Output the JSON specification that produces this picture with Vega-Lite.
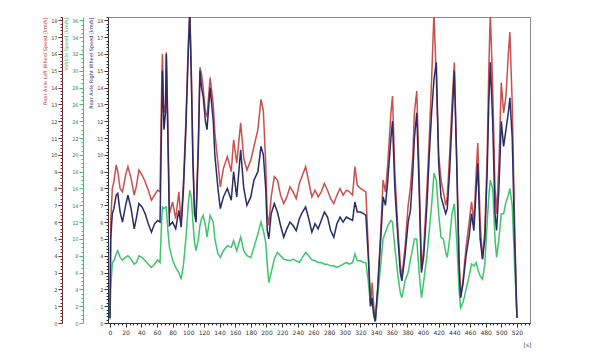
{
  "$schema": "https://vega.github.io/schema/vega-lite/v6.json",
  "autosize": {"type": "none"},
  "padding": {"left": 108, "top": 17, "right": 70, "bottom": 33},
  "width": 422,
  "height": 306,
  "background": "white",
  "config": {"view": {"stroke": "#8a8a8a", "strokeWidth": 1}, "axis": {"labelFont": "DejaVu Sans", "titleFont": "DejaVu Sans"}},
  "data": {"values": [
    {"t":0,"red":0.5,"blue":0.3,"green":0.4},
    {"t":1,"red":6.0,"blue":5.0,"green":4.0},
    {"t":3,"red":8.0,"blue":6.5,"green":7.2},
    {"t":5,"red":8.4,"blue":6.8,"green":7.4},
    {"t":8,"red":9.4,"blue":7.6,"green":8.2},
    {"t":10,"red":9.0,"blue":7.7,"green":8.6},
    {"t":13,"red":8.0,"blue":6.6,"green":7.8},
    {"t":16,"red":7.8,"blue":6.0,"green":7.5},
    {"t":20,"red":8.8,"blue":7.0,"green":7.8},
    {"t":23,"red":9.3,"blue":7.6,"green":8.0},
    {"t":27,"red":8.6,"blue":6.8,"green":7.6},
    {"t":31,"red":7.6,"blue":5.6,"green":7.0},
    {"t":34,"red":8.2,"blue":6.3,"green":7.2},
    {"t":37,"red":9.1,"blue":7.1,"green":8.0},
    {"t":41,"red":8.8,"blue":6.9,"green":7.8},
    {"t":45,"red":8.4,"blue":6.5,"green":7.4},
    {"t":49,"red":7.9,"blue":5.9,"green":7.0},
    {"t":53,"red":7.3,"blue":5.4,"green":6.6},
    {"t":57,"red":7.6,"blue":5.9,"green":7.0},
    {"t":61,"red":7.9,"blue":6.1,"green":7.5},
    {"t":64,"red":7.8,"blue":6.0,"green":7.2},
    {"t":66,"red":14,"blue":12,"green":12.0},
    {"t":67,"red":16,"blue":15,"green":13.8},
    {"t":69,"red":12.5,"blue":11.5,"green":13.6},
    {"t":71,"red":13,"blue":12.5,"green":13.8},
    {"t":72,"red":16.1,"blue":16,"green":13.8},
    {"t":74,"red":12,"blue":11,"green":11.0},
    {"t":76,"red":6.5,"blue":5.8,"green":9.0},
    {"t":80,"red":7.2,"blue":6.0,"green":7.5},
    {"t":84,"red":6.2,"blue":5.6,"green":6.6},
    {"t":88,"red":7.8,"blue":6.7,"green":6.0},
    {"t":91,"red":6.0,"blue":5.7,"green":5.2},
    {"t":94,"red":8.5,"blue":8.0,"green":7.0},
    {"t":97,"red":12,"blue":11.5,"green":10.0},
    {"t":100,"red":16.5,"blue":16,"green":14.0},
    {"t":102,"red":18.5,"blue":18.5,"green":15.8},
    {"t":104,"red":15,"blue":14.5,"green":15.0},
    {"t":106,"red":10,"blue":9.5,"green":12.0},
    {"t":108,"red":7,"blue":6.5,"green":9.6},
    {"t":110,"red":6.3,"blue":6.0,"green":8.6},
    {"t":113,"red":11,"blue":10.5,"green":10.0},
    {"t":115,"red":15.2,"blue":15.0,"green":11.6},
    {"t":117,"red":14.8,"blue":14.0,"green":12.4},
    {"t":119,"red":14,"blue":13.5,"green":12.8},
    {"t":122,"red":12.5,"blue":12,"green":11.6},
    {"t":124,"red":12.3,"blue":11.5,"green":10.2},
    {"t":128,"red":14.6,"blue":14.0,"green":12.8},
    {"t":132,"red":13,"blue":12,"green":12.0},
    {"t":134,"red":11.3,"blue":10,"green":10.0},
    {"t":138,"red":9.5,"blue":8.0,"green":8.2},
    {"t":141,"red":8.1,"blue":6.8,"green":7.8},
    {"t":145,"red":9.2,"blue":7.5,"green":8.6},
    {"t":150,"red":9.9,"blue":8.0,"green":9.2},
    {"t":155,"red":9.0,"blue":7.3,"green":9.0},
    {"t":158,"red":10.9,"blue":9.0,"green":9.8},
    {"t":162,"red":9.5,"blue":7.5,"green":8.6},
    {"t":167,"red":11.9,"blue":10.3,"green":10.2},
    {"t":171,"red":9.8,"blue":8.0,"green":8.6},
    {"t":175,"red":9.1,"blue":7.0,"green":8.0},
    {"t":180,"red":9.7,"blue":7.5,"green":7.8},
    {"t":184,"red":10.5,"blue":8.5,"green":9.0},
    {"t":189,"red":11.5,"blue":9.0,"green":10.6},
    {"t":193,"red":13.3,"blue":10.5,"green":12.0},
    {"t":196,"red":12.6,"blue":10.0,"green":11.0},
    {"t":199,"red":9.5,"blue":8.0,"green":9.6},
    {"t":201,"red":6.5,"blue":5.5,"green":7.0},
    {"t":203,"red":5.8,"blue":5.0,"green":4.8},
    {"t":206,"red":7.5,"blue":6.5,"green":6.0},
    {"t":210,"red":8.7,"blue":7.1,"green":7.6},
    {"t":214,"red":8.5,"blue":6.6,"green":8.4},
    {"t":218,"red":7.6,"blue":5.8,"green":8.0},
    {"t":222,"red":7.1,"blue":5.1,"green":7.6},
    {"t":226,"red":7.5,"blue":5.6,"green":7.5},
    {"t":230,"red":8.1,"blue":6.0,"green":7.4},
    {"t":234,"red":7.8,"blue":5.8,"green":7.6},
    {"t":238,"red":7.4,"blue":5.5,"green":7.4},
    {"t":242,"red":8.3,"blue":6.2,"green":7.2},
    {"t":246,"red":8.8,"blue":6.6,"green":7.8},
    {"t":250,"red":9.3,"blue":6.9,"green":8.4},
    {"t":254,"red":8.4,"blue":6.2,"green":8.0},
    {"t":258,"red":7.5,"blue":5.4,"green":7.5},
    {"t":262,"red":7.9,"blue":5.9,"green":7.4},
    {"t":266,"red":7.5,"blue":5.6,"green":7.2},
    {"t":270,"red":7.8,"blue":6.1,"green":7.2},
    {"t":274,"red":8.3,"blue":6.6,"green":7.0},
    {"t":278,"red":7.9,"blue":6.3,"green":7.0},
    {"t":282,"red":7.4,"blue":5.5,"green":6.8},
    {"t":286,"red":7.1,"blue":5.1,"green":6.8},
    {"t":290,"red":7.6,"blue":5.9,"green":6.6},
    {"t":294,"red":8.0,"blue":6.3,"green":6.8},
    {"t":298,"red":7.6,"blue":6.0,"green":7.0},
    {"t":302,"red":7.9,"blue":6.3,"green":7.2},
    {"t":306,"red":7.8,"blue":6.2,"green":7.0},
    {"t":310,"red":7.6,"blue":6.1,"green":7.2},
    {"t":313,"red":9.3,"blue":7.2,"green":8.2},
    {"t":316,"red":8.2,"blue":6.6,"green":7.4},
    {"t":320,"red":8.0,"blue":6.6,"green":7.4},
    {"t":324,"red":7.9,"blue":6.5,"green":7.2},
    {"t":327,"red":7.8,"blue":6.4,"green":7.2},
    {"t":330,"red":4.5,"blue":4.0,"green":5.0},
    {"t":333,"red":1.0,"blue":1.0,"green":2.0},
    {"t":335,"red":2.4,"blue":1.5,"green":3.0},
    {"t":337,"red":1.0,"blue":0.5,"green":1.0},
    {"t":339,"red":0.1,"blue":0.1,"green":0.2},
    {"t":342,"red":2.0,"blue":2.0,"green":3.0},
    {"t":346,"red":5.5,"blue":5.0,"green":7.0},
    {"t":349,"red":8.5,"blue":7.5,"green":10.0},
    {"t":352,"red":7.8,"blue":7.0,"green":10.8},
    {"t":355,"red":9.5,"blue":8.5,"green":11.6},
    {"t":359,"red":12.5,"blue":11.0,"green":12.2},
    {"t":361,"red":13.5,"blue":12.0,"green":12.0},
    {"t":364,"red":9.0,"blue":8.0,"green":9.0},
    {"t":368,"red":5.5,"blue":5.0,"green":5.6},
    {"t":371,"red":3.5,"blue":3.0,"green":3.6},
    {"t":373,"red":2.7,"blue":2.5,"green":3.0},
    {"t":377,"red":4.5,"blue":4.0,"green":5.0},
    {"t":381,"red":7.0,"blue":6.0,"green":6.0},
    {"t":384,"red":8.1,"blue":6.7,"green":7.6},
    {"t":387,"red":10,"blue":9,"green":9.0},
    {"t":389,"red":12.5,"blue":11,"green":10.0},
    {"t":392,"red":13.8,"blue":12.5,"green":10.0},
    {"t":395,"red":9.0,"blue":8.0,"green":6.0},
    {"t":398,"red":3.2,"blue":3.0,"green":3.0},
    {"t":401,"red":4.5,"blue":4.0,"green":5.0},
    {"t":405,"red":8.0,"blue":7.0,"green":8.0},
    {"t":408,"red":11,"blue":10,"green":11.0},
    {"t":411,"red":14.5,"blue":12.5,"green":14.0},
    {"t":414,"red":18.5,"blue":14.5,"green":17.8},
    {"t":417,"red":14.5,"blue":15.5,"green":17.0},
    {"t":420,"red":10,"blue":9.5,"green":13.0},
    {"t":423,"red":8.5,"blue":7.5,"green":10.2},
    {"t":426,"red":7.8,"blue":7.0,"green":10.0},
    {"t":429,"red":7.0,"blue":6.5,"green":8.4},
    {"t":431,"red":7.5,"blue":6.8,"green":7.8},
    {"t":434,"red":10,"blue":9.0,"green":10.0},
    {"t":437,"red":13,"blue":12,"green":13.0},
    {"t":440,"red":15.5,"blue":15.0,"green":14.2},
    {"t":443,"red":10,"blue":9.5,"green":10.0},
    {"t":446,"red":4.0,"blue":3.5,"green":4.0},
    {"t":448,"red":1.5,"blue":1.5,"green":1.8},
    {"t":451,"red":2.5,"blue":2.3,"green":2.4},
    {"t":455,"red":4.5,"blue":4.0,"green":4.0},
    {"t":459,"red":6.0,"blue":5.2,"green":5.6},
    {"t":462,"red":7.2,"blue":6.5,"green":7.0},
    {"t":465,"red":6.0,"blue":5.5,"green":6.8},
    {"t":468,"red":9,"blue":8,"green":7.2},
    {"t":470,"red":10.7,"blue":9.5,"green":6.4},
    {"t":473,"red":6.0,"blue":5.0,"green":5.6},
    {"t":476,"red":3.8,"blue":3.8,"green":5.2},
    {"t":479,"red":5.5,"blue":5.0,"green":7.0},
    {"t":482,"red":10,"blue":9,"green":12.0},
    {"t":484,"red":15,"blue":13,"green":15.0},
    {"t":486,"red":18.5,"blue":15.5,"green":17.0},
    {"t":489,"red":14,"blue":12,"green":16.0},
    {"t":492,"red":8,"blue":6.5,"green":10.0},
    {"t":494,"red":6.5,"blue":5.5,"green":7.8},
    {"t":497,"red":9.5,"blue":8.0,"green":10.0},
    {"t":500,"red":14.3,"blue":12.0,"green":13.0},
    {"t":503,"red":12.5,"blue":10.5,"green":13.0},
    {"t":506,"red":13.5,"blue":11.5,"green":14.4},
    {"t":509,"red":16,"blue":12.5,"green":15.2},
    {"t":511,"red":17.3,"blue":13.4,"green":16.0},
    {"t":514,"red":13,"blue":11,"green":14.0},
    {"t":517,"red":6,"blue":5,"green":7.0},
    {"t":520,"red":0.3,"blue":0.3,"green":0.6}
  ]},
  "encoding": {
    "x": {"field": "t", "type": "quantitative",
      "scale": {"domain": [-2.5, 536.7], "nice": false, "zero": false},
      "axis": {"title": "[s]", "titleFontSize": 6, "titleFontWeight": "normal", "titleColor": "#333", "titleX": 419, "titleY": 18, "titleAlign": "center",
        "tickCount": 104, "labelOverlap": false, "labelBound": false, "labelFontSize": 6, "labelColor": "#333", "labelPadding": 2,
        "labelExpr": "datum.value % 20 === 0 ? format(datum.value, 'd') : ''",
        "tickSize": {"condition": {"test": "datum.value % 20 === 0", "value": 4}, "value": 2},
        "domainColor": "#333", "tickColor": "#333", "grid": false}}
  },
  "layer": [
    {
      "mark": {"type": "line", "color": "#c9504e", "strokeWidth": 1.5, "clip": true},
      "encoding": {
        "y": {"field": "red", "type": "quantitative",
          "scale": {"domain": [0, 18.2], "nice": false},
          "axis": {"orient": "left", "offset": 46, "title": "Rear Axle Left Wheel Speed [km/h]", "titleColor": "#b03a3a", "titleFontSize": 5, "titleFontWeight": "normal", "titleAnchor": "end", "titlePadding": 3,
            "tickCount": 91, "labelOverlap": false, "labelBound": false, "labelFontSize": 5, "labelColor": "#444", "labelPadding": 1,
            "labelExpr": "datum.value % 1 === 0 ? format(datum.value, 'd') : ''",
            "tickSize": {"condition": {"test": "datum.value % 1 === 0", "value": 4}, "value": 2},
            "domainColor": "#6a3030", "tickColor": "#6a3030", "grid": false}}
      }
    },
    {
      "mark": {"type": "line", "color": "#3fc46c", "strokeWidth": 1.5, "clip": true},
      "encoding": {
        "y": {"field": "green", "type": "quantitative",
          "scale": {"domain": [0, 36.4], "nice": false},
          "axis": {"orient": "left", "offset": 25, "title": "Vehicle Speed [km/h]", "titleColor": "#3fb060", "titleFontSize": 5, "titleFontWeight": "normal", "titleAnchor": "end", "titlePadding": 3,
            "tickCount": 90, "labelOverlap": false, "labelBound": false, "labelFontSize": 5, "labelColor": "#3a8a55", "labelPadding": 1,
            "labelExpr": "datum.value % 2 === 0 ? format(datum.value, 'd') : ''",
            "tickSize": {"condition": {"test": "datum.value % 2 === 0", "value": 4}, "value": 2},
            "domainColor": "#3fc46c", "tickColor": "#3fc46c", "grid": false}}
      }
    },
    {
      "mark": {"type": "line", "color": "#2b2b66", "strokeWidth": 1.5, "clip": true},
      "encoding": {
        "y": {"field": "blue", "type": "quantitative",
          "scale": {"domain": [0, 18.2], "nice": false},
          "axis": {"orient": "left", "offset": 0, "title": "Rear Axle Right Wheel Speed [km/h]", "titleColor": "#2b2b80", "titleFontSize": 5, "titleFontWeight": "normal", "titleAnchor": "end", "titlePadding": 3,
            "tickCount": 91, "labelOverlap": false, "labelBound": false, "labelFontSize": 5, "labelColor": "#444", "labelPadding": 1,
            "labelExpr": "datum.value % 1 === 0 ? format(datum.value, 'd') : ''",
            "tickSize": {"condition": {"test": "datum.value % 1 === 0", "value": 4}, "value": 2},
            "domainColor": "#333", "tickColor": "#333", "grid": false}}
      }
    }
  ],
  "resolve": {"scale": {"y": "independent"}, "axis": {"y": "independent"}}
}
